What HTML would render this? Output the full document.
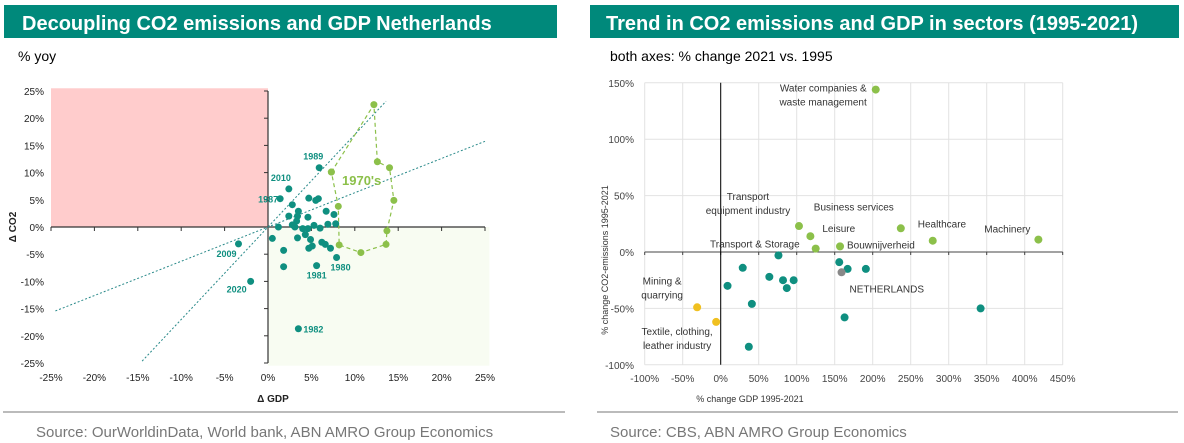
<!DOCTYPE html>
<html><head><meta charset="utf-8"><style>
body{margin:0;background:#fff;width:1184px;height:443px;overflow:hidden;font-family:"Liberation Sans",Arial,sans-serif}
svg{display:block}
</style></head><body>
<svg width="1184" height="443" xmlns="http://www.w3.org/2000/svg" font-family="Liberation Sans, Arial, sans-serif">
<rect x="4" y="5" width="553" height="33" fill="#00897b"/>
<text x="22" y="30" fill="#fff" font-size="20" font-weight="bold">Decoupling CO2 emissions and GDP Netherlands</text>
<rect x="590" y="5" width="589" height="33" fill="#00897b"/>
<text x="606" y="30" fill="#fff" font-size="20" font-weight="bold">Trend in CO2 emissions and GDP in sectors (1995-2021)</text>
<text x="18" y="61" font-size="14" fill="#000">% yoy</text>
<text x="610" y="61" font-size="14" fill="#000">both axes: % change 2021 vs. 1995</text>
<line x1="3" y1="412" x2="565" y2="412" stroke="#bbb" stroke-width="2"/>
<line x1="597" y1="412" x2="1178" y2="412" stroke="#bbb" stroke-width="2"/>
<text x="36" y="437" font-size="15" fill="#777">Source: OurWorldinData, World bank, ABN AMRO Group Economics</text>
<text x="610" y="437" font-size="15" fill="#777">Source: CBS, ABN AMRO Group Economics</text>
<g id="left"></g>
<g id="right"></g>
</svg>
<script>
const NS='http://www.w3.org/2000/svg';
// Left chart data
const leftTicks=[-25,-20,-15,-10,-5,0,5,10,15,20,25];
const tealGdp=[5.9,2.4,1.4,2.8,4.7,5.8,5.5,3.5,6.7,2.4,3.4,4.6,7.6,7.8,6.9,3.3,2.8,1.2,5.3,6.0,4.0,4.6,3.1,0.5,4.3,3.4,4.9,6.2,6.6,5.1,4.7,7.2,7.9,1.8,1.8,5.6,-3.4,-2.0,3.5];
const tealCo2=[10.9,7.0,5.2,4.1,5.3,5.2,4.9,2.9,2.9,2.0,2.0,1.8,2.3,0.6,0.5,1.1,0.4,0,0.3,-0.2,-0.3,-0.3,0,-2.1,-1.4,-2.0,-2.3,-2.8,-3.2,-3.5,-3.9,-3.9,-5.6,-4.3,-7.3,-7.1,-3.1,-10.0,-18.7];
const tealYears=['1989','2010','1987','','','','','','','','','','','','','','','','','','','','','','','','','','','','','','1980','','','1981','2009','2020','1982'];
const seventiesGdp=[7.3,12.2,12.6,14.0,14.5,13.7,13.6,10.7,8.2,8.1,7.3];
const seventiesCo2=[10.1,22.5,12.0,10.9,4.9,-0.7,-3.2,-4.7,-3.3,3.8,10.1];
const trendSlopes=[0.63,1.7];
const trendRanges=[[-24.5,25],[-14.5,13.6]];
// Right chart data
const rxTicks=[-100,-50,0,50,100,150,200,250,300,350,400,450];
const ryTicks=[-100,-50,0,50,100,150];
const greenNames=['Water companies &|waste management','Transport|equipment industry','Leisure','Transport & Storage','Business services','Healthcare','Machinery','Bouwnijverheid'];
const greenGdp=[204,103,118,125,237,279,418,157];
const greenCo2=[144,23,14,3,21,10,11,5];
const tealSecGdp=[76,29,9,41,64,82,87,96,156,167,191,163,342,37];
const tealSecCo2=[-3,-14,-30,-46,-22,-25,-32,-25,-9,-15,-15,-58,-50,-84];
const yellowNames=['Mining &|quarrying','Textile, clothing,|leather industry'];
const yellowGdp=[-31,-6];
const yellowCo2=[-49,-62];
const nlGdp=[159];const nlCo2=[-18];

function el(parent,tag,attrs,text){const e=document.createElementNS(NS,tag);for(const k in attrs)e.setAttribute(k,attrs[k]);if(text!==undefined)e.textContent=text;parent.appendChild(e);return e;}

// LEFT
const L=document.getElementById('left');
const lx=v=>268+v*8.68, ly=v=>227-v*5.44;
let e;
e=el(L,'rect',{x:lx(-25),y:ly(25.5),width:lx(0)-lx(-25),height:ly(0)-ly(25.5),fill:'#ffcccc'});


e=el(L,'rect',{x:lx(0),y:ly(0),width:lx(25.5)-lx(0),height:ly(-25.5)-ly(0),fill:'#f8fcf2'});


el(L,'line',{x1:lx(-25),y1:ly(0),x2:lx(25),y2:ly(0),stroke:'#333','stroke-width':1.2});
el(L,'line',{x1:lx(0),y1:ly(25),x2:lx(0),y2:ly(-25),stroke:'#333','stroke-width':1.2});
leftTicks.forEach(t=>{
  el(L,'line',{x1:lx(t),y1:ly(0),x2:lx(t),y2:ly(0)+4,stroke:'#333'});
  el(L,'line',{x1:lx(0)-4,y1:ly(t),x2:lx(0),y2:ly(t),stroke:'#333'});
  e=el(L,'text',{x:lx(t),y:381,'font-size':10,'text-anchor':'middle',fill:'#222'},t+'%');
  
  
  e=el(L,'text',{x:44,y:ly(t)+4,'font-size':10,'text-anchor':'end',fill:'#222'},t+'%');
  
  
});
e=el(L,'text',{x:273,y:402,'font-size':10,'font-weight':'bold','text-anchor':'middle',fill:'#222'},'Δ GDP');


e=el(L,'text',{x:0,y:0,'font-size':10,'font-weight':'bold','text-anchor':'middle',fill:'#222',transform:'translate(16,227) rotate(-90)'},'Δ CO2');


trendSlopes.forEach((s,i)=>{
  const r=trendRanges[i];
  e=el(L,'line',{x1:lx(r[0]),y1:ly(r[0]*s),x2:lx(r[1]),y2:ly(r[1]*s),stroke:'#2a8a8a','stroke-width':1,'stroke-dasharray':'2,2'});
  
  
});
let d='';
seventiesGdp.forEach((g,i)=>{d+=(i?'L':'M')+lx(g)+','+ly(seventiesCo2[i]);});
e=el(L,'path',{d:d,fill:'none',stroke:'#8cc04a','stroke-width':1.2,'stroke-dasharray':'4,3'});


seventiesGdp.forEach((g,i)=>{
  e=el(L,'circle',{cx:lx(g),cy:ly(seventiesCo2[i]),r:3.5,fill:'#8cc04a'});
  
  
});
e=el(L,'text',{x:342,y:185,'font-size':13,'font-weight':'bold',fill:'#8cc04a'},"1970's");


tealGdp.forEach((g,i)=>{
  e=el(L,'circle',{cx:lx(g),cy:ly(tealCo2[i]),r:3.5,fill:'#0f8f80'});
  
  
  const y=tealYears[i];
  if(y){
    let tx=lx(g),ty=ly(tealCo2[i]),a='middle';
    if(y==='1989'){ty-=8;tx-=6;}
    else if(y==='2010'){ty-=8;tx-=8;}
    else if(y==='1987'){a='end';tx-=2;ty+=4;}
    else if(y==='2009'){ty+=13;tx-=12;}
    else if(y==='2020'){ty+=11;tx-=14;}
    else if(y==='1981'){ty+=13;}
    else if(y==='1980'){ty+=13;tx+=4;}
    else if(y==='1982'){a='start';tx+=5;ty+=4;}
    e=el(L,'text',{x:tx,y:ty,'font-size':9,'font-weight':'bold','text-anchor':a,fill:'#0f8f80'},y);
    
    
  }
});

// RIGHT
const R=document.getElementById('right');
const rx=v=>720.7+v*0.76, ry=v=>252-v*1.128;
rxTicks.forEach(t=>{
  el(R,'line',{x1:rx(t),y1:ry(150),x2:rx(t),y2:ry(-100),stroke:'#e2e2e2'});
  e=el(R,'text',{x:rx(t),y:382,'font-size':10,'text-anchor':'middle',fill:'#444'},t+'%');
  
  
});
ryTicks.forEach(t=>{
  el(R,'line',{x1:rx(-100),y1:ry(t),x2:rx(450),y2:ry(t),stroke:'#e2e2e2'});
  e=el(R,'text',{x:634,y:ry(t)+4,'font-size':10,'text-anchor':'end',fill:'#444'},t+'%');
  
  
});
el(R,'line',{x1:rx(-100),y1:ry(0),x2:rx(450),y2:ry(0),stroke:'#444','stroke-width':1});
rxTicks.forEach(t=>el(R,'line',{x1:rx(t),y1:ry(0),x2:rx(t),y2:ry(0)+3,stroke:'#444'}));
el(R,'line',{x1:rx(0),y1:ry(150),x2:rx(0),y2:ry(-100),stroke:'#000','stroke-width':1});
e=el(R,'text',{x:750,y:402,'font-size':9,'text-anchor':'middle',fill:'#333'},'% change GDP 1995-2021');


e=el(R,'text',{x:0,y:0,'font-size':9,'text-anchor':'middle',fill:'#333',transform:'translate(608,260) rotate(-90)'},'% change CO2-emissions 1995-2021');


function label(lines,x,y,anchor,name){
  lines.split('|').forEach((ln,i)=>{
    e=el(R,'text',{x:x,y:y+i*14,'font-size':10,'text-anchor':anchor,fill:'#333'},ln);
    
    
  });
}
const gOff=[[-9,2,'end'],[-51,-26,'middle'],[12,-4,'start'],[-16,-1,'end'],[-7,-18,'end'],[-15,-13,'start'],[-8,-7,'end'],[7,2,'start']];
greenGdp.forEach((g,i)=>{
  const x=rx(g),y=ry(greenCo2[i]);
  e=el(R,'circle',{cx:x,cy:y,r:4,fill:'#8cc04a'});
  
  
  const o=gOff[i];
  label(greenNames[i],x+o[0],y+o[1],o[2],'sector-label');
});
tealSecGdp.forEach((g,i)=>{
  e=el(R,'circle',{cx:rx(g),cy:ry(tealSecCo2[i]),r:4,fill:'#0f8f80'});
  
  
});
e=el(R,'circle',{cx:rx(nlGdp[0]),cy:ry(nlCo2[0]),r:4,fill:'#888'});


label('NETHERLANDS',rx(nlGdp[0])+8,ry(nlCo2[0])+20,'start','netherlands-label');
const yOff=[[-35,-23],[-39,13]];
yellowGdp.forEach((g,i)=>{
  const x=rx(g),y=ry(yellowCo2[i]);
  e=el(R,'circle',{cx:x,cy:y,r:4,fill:'#f0c020'});
  
  
  label(yellowNames[i],x+yOff[i][0],y+yOff[i][1],'middle','sector-label');
});
</script>
</body></html>
